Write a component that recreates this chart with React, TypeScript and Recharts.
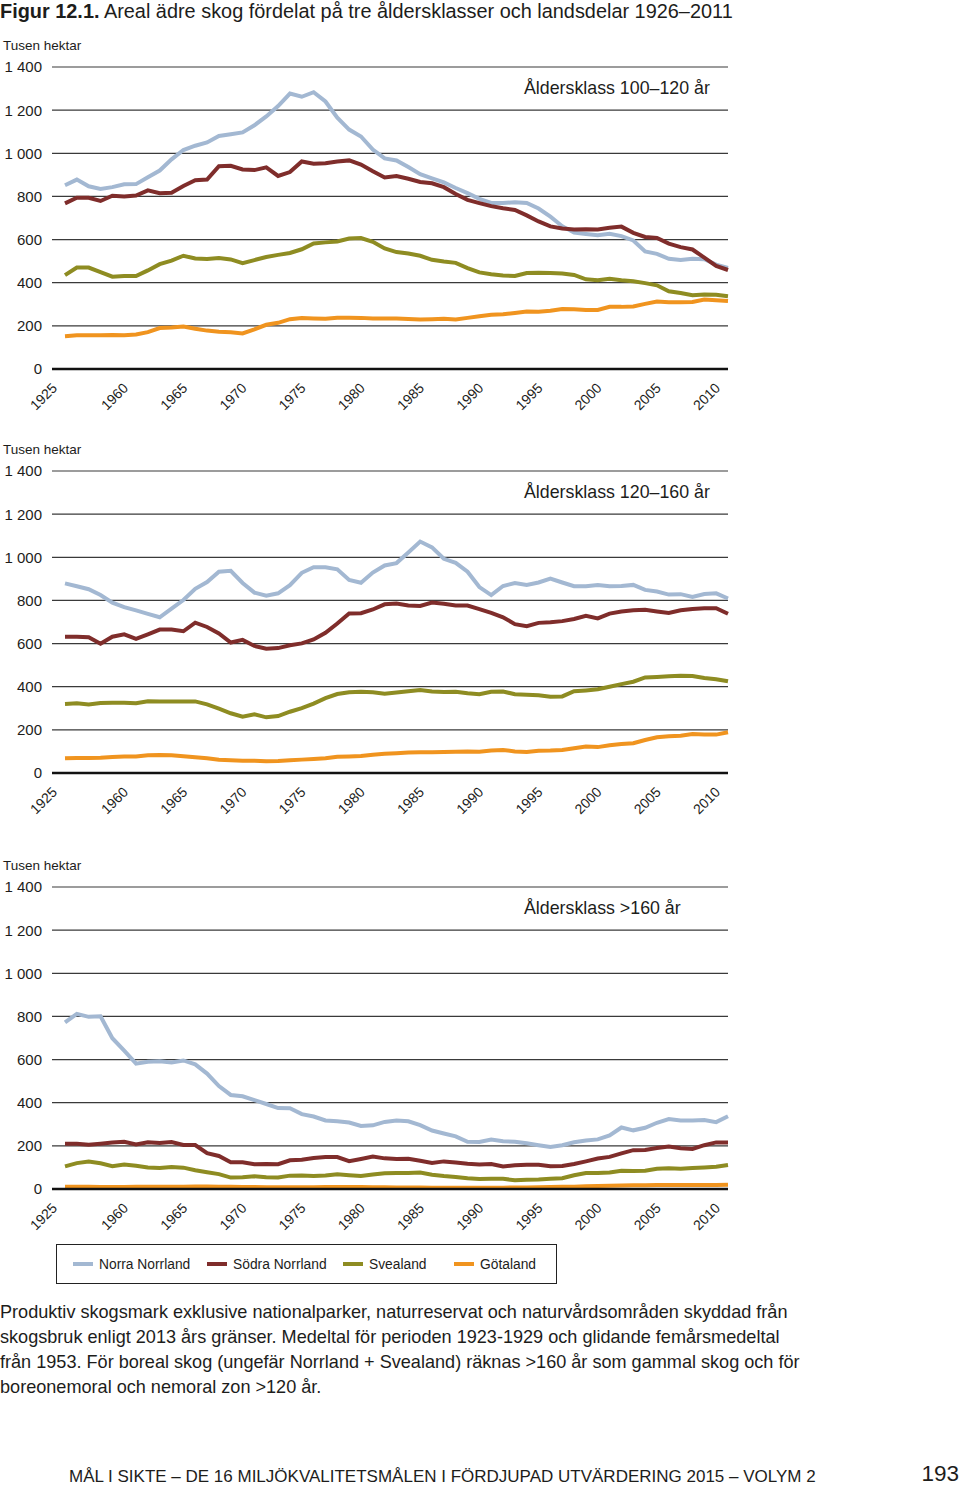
import React from 'react';
import { LineChart, Line, XAxis, YAxis, CartesianGrid } from 'recharts';

const INK = '#1d1d1b';
const FONT = "'Liberation Sans', Arial, sans-serif";

const YEARS = [
  '1925',
  '1955', '1956', '1957', '1958', '1959', '1960', '1961', '1962', '1963', '1964',
  '1965', '1966', '1967', '1968', '1969', '1970', '1971', '1972', '1973', '1974',
  '1975', '1976', '1977', '1978', '1979', '1980', '1981', '1982', '1983', '1984',
  '1985', '1986', '1987', '1988', '1989', '1990', '1991', '1992', '1993', '1994',
  '1995', '1996', '1997', '1998', '1999', '2000', '2001', '2002', '2003', '2004',
  '2005', '2006', '2007', '2008', '2009', '2010',
];

const X_TICKS = ['1925', '1960', '1965', '1970', '1975', '1980', '1985', '1990', '1995', '2000', '2005', '2010'];
const Y_TICKS = [0, 200, 400, 600, 800, 1000, 1200, 1400];
const Y_TICK_LABELS = ['0', '200', '400', '600', '800', '1 000', '1 200', '1 400'];

// Åldersklass 100–120 år
const P1_NORRA = [852, 878, 847, 835, 843, 856, 857, 889, 920, 972, 1015, 1035, 1050, 1080, 1088, 1097, 1130, 1171, 1219, 1277, 1262, 1283, 1240, 1165, 1110, 1078, 1017, 976, 967, 936, 903, 884, 865, 839, 815, 789, 770, 770, 773, 770, 744, 706, 662, 632, 626, 620, 627, 616, 596, 545, 534, 511, 505, 511, 509, 484, 469];
const P1_SODRA = [768, 794, 794, 779, 803, 800, 804, 828, 815, 817, 848, 875, 878, 940, 942, 925, 922, 935, 895, 913, 962, 952, 954, 962, 967, 948, 917, 888, 895, 882, 867, 861, 843, 811, 784, 769, 755, 745, 737, 712, 684, 661, 651, 647, 648, 647, 655, 660, 631, 612, 607, 581, 565, 554, 516, 478, 459];
const P1_SVEA = [435, 470, 470, 449, 428, 431, 431, 457, 486, 502, 525, 512, 510, 514, 508, 491, 505, 519, 529, 538, 555, 582, 587, 591, 605, 607, 590, 559, 542, 535, 525, 506, 498, 492, 468, 448, 439, 434, 431, 445, 446, 445, 443, 436, 416, 412, 418, 411, 407, 398, 388, 360, 352, 342, 345, 344, 337];
const P1_GOTA = [152, 156, 156, 156, 158, 156, 160, 171, 190, 192, 197, 187, 178, 173, 170, 165, 184, 205, 214, 231, 236, 234, 233, 238, 238, 237, 234, 234, 234, 232, 230, 231, 233, 230, 237, 245, 251, 254, 260, 266, 265, 270, 278, 277, 274, 274, 288, 288, 290, 302, 313, 309, 309, 311, 322, 319, 315];

// Åldersklass 120–160 år
const P2_NORRA = [879, 866, 852, 825, 790, 769, 754, 738, 722, 762, 802, 854, 885, 933, 937, 881, 836, 822, 833, 871, 928, 954, 954, 944, 895, 882, 929, 962, 973, 1022, 1073, 1046, 993, 974, 933, 862, 825, 867, 881, 872, 883, 901, 883, 866, 866, 872, 866, 867, 872, 849, 841, 827, 829, 816, 830, 833, 809];
const P2_SODRA = [632, 632, 629, 599, 632, 643, 622, 643, 665, 665, 657, 697, 677, 647, 605, 617, 589, 576, 579, 592, 601, 619, 650, 693, 739, 741, 758, 782, 786, 777, 774, 790, 785, 777, 776, 760, 742, 722, 690, 681, 696, 699, 704, 714, 729, 717, 739, 749, 754, 757, 749, 742, 754, 760, 764, 764, 738];
const P2_SVEA = [320, 323, 318, 325, 326, 326, 323, 333, 331, 332, 332, 332, 318, 298, 277, 261, 272, 258, 264, 284, 301, 322, 347, 366, 374, 377, 374, 368, 373, 379, 385, 378, 376, 377, 370, 365, 377, 378, 365, 363, 360, 353, 355, 379, 383, 388, 400, 412, 423, 443, 445, 448, 451, 450, 440, 435, 425];
const P2_GOTA = [68, 70, 70, 71, 74, 77, 76, 82, 83, 82, 78, 73, 68, 61, 59, 57, 57, 55, 56, 59, 62, 65, 68, 75, 77, 79, 85, 89, 92, 95, 96, 96, 97, 99, 100, 99, 104, 107, 100, 97, 103, 104, 107, 115, 123, 120, 129, 134, 138, 153, 166, 170, 173, 181, 178, 178, 189];

// Åldersklass >160 år
const P3_NORRA = [772, 812, 798, 801, 699, 641, 581, 590, 592, 586, 596, 578, 535, 477, 436, 430, 412, 394, 375, 374, 347, 336, 318, 314, 308, 292, 295, 311, 317, 314, 296, 271, 257, 244, 219, 218, 229, 221, 219, 212, 203, 195, 203, 217, 225, 230, 248, 285, 272, 284, 307, 324, 318, 318, 320, 310, 337];
const P3_SODRA = [210, 210, 205, 210, 216, 219, 206, 217, 213, 218, 204, 204, 166, 153, 124, 124, 115, 116, 115, 133, 136, 144, 148, 148, 129, 139, 150, 142, 139, 140, 131, 121, 128, 123, 117, 114, 116, 104, 110, 112, 112, 105, 107, 116, 128, 141, 149, 165, 180, 181, 190, 197, 189, 186, 203, 216, 216];
const P3_SVEA = [105, 120, 127, 119, 106, 114, 108, 100, 97, 102, 99, 87, 78, 69, 53, 54, 59, 55, 53, 62, 63, 60, 63, 68, 64, 60, 67, 73, 74, 74, 76, 66, 60, 56, 50, 46, 47, 47, 41, 43, 44, 47, 50, 64, 74, 74, 77, 85, 83, 85, 94, 96, 94, 97, 100, 103, 111];
const P3_GOTA = [10, 10, 10, 9, 9, 9, 10, 10, 11, 11, 11, 12, 12, 11, 10, 9, 9, 8, 8, 8, 8, 8, 9, 9, 9, 9, 8, 8, 7, 7, 7, 6, 6, 6, 6, 6, 6, 6, 7, 7, 8, 9, 10, 11, 13, 14, 15, 16, 17, 17, 18, 18, 19, 19, 19, 19, 20];

const SERIES = [
  { key: 'norra', name: 'Norra Norrland', color: '#A3B8D2' },
  { key: 'sodra', name: 'Södra Norrland', color: '#7F2D2B' },
  { key: 'svea', name: 'Svealand', color: '#8E8C22' },
  { key: 'gota', name: 'Götaland', color: '#F0941F' },
];

const PANELS = [
  { label: 'Åldersklass 100–120 år', top: 67, values: [P1_NORRA, P1_SODRA, P1_SVEA, P1_GOTA] },
  { label: 'Åldersklass 120–160 år', top: 471, values: [P2_NORRA, P2_SODRA, P2_SVEA, P2_GOTA] },
  { label: 'Åldersklass >160 år', top: 887, values: [P3_NORRA, P3_SODRA, P3_SVEA, P3_GOTA] },
];

const FOOTNOTE = [
  'Produktiv skogsmark exklusive nationalparker, naturreservat och naturvårdsområden skyddad från',
  'skogsbruk enligt 2013 års gränser. Medeltal för perioden 1923-1929 och glidande femårsmedeltal',
  'från 1953. För boreal skog (ungefär Norrland + Svealand) räknas >160 år som gammal skog och för',
  'boreonemoral och nemoral zon >120 år.',
];

const TOP_MARGIN = 10;
const PLOT_H = 302;
const XAXIS_H = 45;
const CHART_W = 740;

const XTick = (props: any) => {
  const { x, y, payload } = props;
  const ax = x - 7;
  const ay = y + 20;
  return (
    <text x={ax} y={ay} transform={`rotate(-45 ${ax} ${ay})`} textAnchor="end" fontSize={14} fill={INK} fontFamily={FONT}>
      {payload.value}
    </text>
  );
};

const YTick = (props: any) => {
  const { x, y, payload } = props;
  const idx = Y_TICKS.indexOf(payload.value);
  return (
    <text x={x} y={y} dy="0.36em" textAnchor="end" fontSize={15} fill={INK} fontFamily={FONT}>
      {idx >= 0 ? Y_TICK_LABELS[idx] : payload.value}
    </text>
  );
};

function Panel({ top, values }: { top: number; values: number[][] }) {
  const data = YEARS.map((year, i) => {
    const row: any = { year };
    SERIES.forEach((s, k) => {
      row[s.key] = values[k][i];
    });
    return row;
  });
  return (
    <div style={{ position: 'absolute', left: 0, top: top - TOP_MARGIN, width: CHART_W, height: TOP_MARGIN + PLOT_H + XAXIS_H }}>
      <LineChart width={CHART_W} height={TOP_MARGIN + PLOT_H + XAXIS_H} data={data} margin={{ top: TOP_MARGIN, right: 12, bottom: 0, left: 0 }}>
        <CartesianGrid vertical={false} stroke="#3a3a3a" strokeWidth={1.2} />
        <XAxis
          dataKey="year"
          ticks={X_TICKS}
          interval={0}
          tickLine={false}
          tickSize={0}
          tickMargin={0}
          axisLine={{ stroke: '#111', strokeWidth: 2.5 }}
          padding={{ left: 13, right: 0 }}
          height={XAXIS_H}
          tick={XTick}
        />
        <YAxis
          domain={[0, 1400]}
          ticks={Y_TICKS}
          interval={0}
          width={52}
          axisLine={false}
          tickLine={false}
          tickSize={0}
          tickMargin={10}
          tick={YTick}
        />
        {SERIES.map((s) => (
          <Line
            key={s.key}
            type="linear"
            dataKey={s.key}
            name={s.name}
            stroke={s.color}
            strokeWidth={4}
            dot={false}
            activeDot={false}
            isAnimationActive={false}
          />
        ))}
      </LineChart>
    </div>
  );
}

export default function App() {
  const legendX = [73, 207, 343, 454];
  return (
    <div style={{ position: 'absolute', left: 0, top: 0, width: 960, height: 1486, background: '#fff', fontFamily: FONT, overflow: 'hidden' }}>
      {PANELS.map((p, i) => (
        <Panel key={i} top={p.top} values={p.values} />
      ))}
      <svg width={960} height={1486} style={{ position: 'absolute', left: 0, top: 0, pointerEvents: 'none' }} fontFamily={FONT}>
        <text x={0} y={17.5} fontSize={19.9} fill={INK}>
          <tspan fontWeight="bold">Figur 12.1.</tspan>
          <tspan> Areal ädre skog fördelat på tre åldersklasser och landsdelar 1926–2011</tspan>
        </text>
        {PANELS.map((p, i) => (
          <g key={i}>
            <text x={3} y={p.top - 17} fontSize={13.5} fill={INK}>Tusen hektar</text>
            <text x={524} y={p.top + 27} fontSize={17.8} fill={INK}>{p.label}</text>
          </g>
        ))}
        <rect x={56.5} y={1244.5} width={500} height={39} fill="none" stroke="#222" strokeWidth={1} />
        {SERIES.map((s, i) => (
          <g key={s.key}>
            <line x1={legendX[i]} x2={legendX[i] + 20} y1={1264} y2={1264} stroke={s.color} strokeWidth={4} />
            <text x={legendX[i] + 26} y={1269} fontSize={13.8} fill={INK}>{s.name}</text>
          </g>
        ))}
        {FOOTNOTE.map((line, i) => (
          <text key={i} x={0} y={1317.5 + i * 25} fontSize={18.1} fill={INK}>{line}</text>
        ))}
        <text x={69} y={1482} fontSize={17} fill={INK}>MÅL I SIKTE – DE 16 MILJÖKVALITETSMÅLEN I FÖRDJUPAD UTVÄRDERING 2015 – VOLYM 2</text>
        <text x={959} y={1481} textAnchor="end" fontSize={22.5} fill={INK}>193</text>
      </svg>
    </div>
  );
}
